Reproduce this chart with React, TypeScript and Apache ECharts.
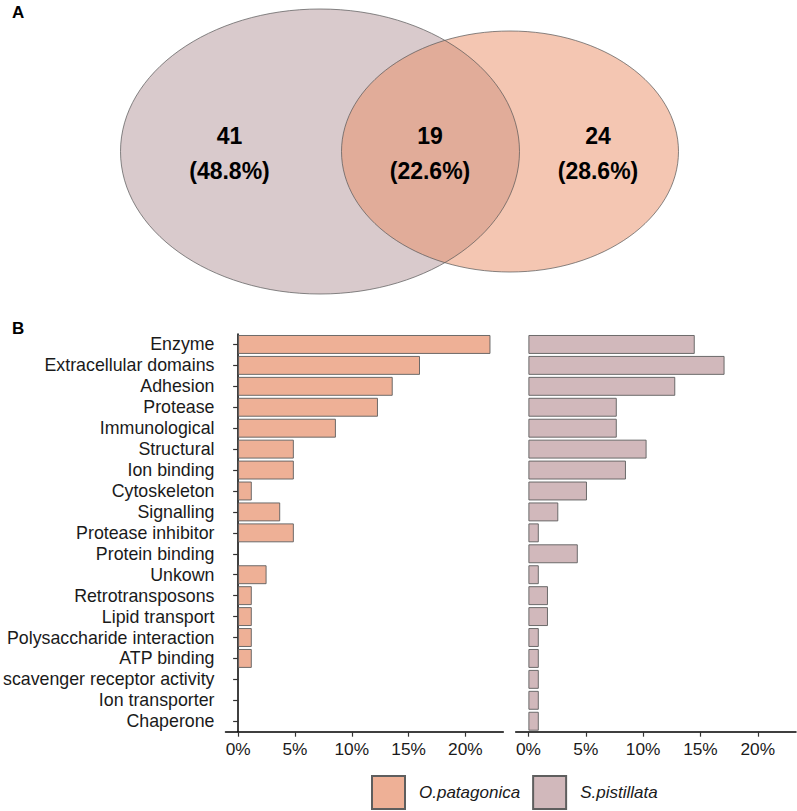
import React, { useEffect, useRef } from "react";
import * as echarts from "echarts";

// ---------- data ----------
const categories = [
  "Enzyme",
  "Extracellular domains",
  "Adhesion",
  "Protease",
  "Immunological",
  "Structural",
  "Ion binding",
  "Cytoskeleton",
  "Signalling",
  "Protease inhibitor",
  "Protein binding",
  "Unkown",
  "Retrotransposons",
  "Lipid transport",
  "Polysaccharide interaction",
  "ATP binding",
  "scavenger receptor activity",
  "Ion transporter",
  "Chaperone",
];

const seriesNames = ["O.patagonica", "S.pistillata"];

// percentages (%)
const opValues = [22.2, 16.0, 13.6, 12.3, 8.6, 4.9, 4.9, 1.2, 3.7, 4.9, 0, 2.5, 1.2, 1.2, 1.2, 1.2, 0, 0, 0];
const spValues = [14.5, 17.1, 12.8, 7.7, 7.7, 10.3, 8.5, 5.1, 2.6, 0.9, 4.3, 0.9, 1.7, 1.7, 0.9, 0.9, 0.9, 0.9, 0.9];

const xTicks = [0, 5, 10, 15, 20];

const vennCounts = [41, 19, 24];
const vennShares = ["48.8%", "22.6%", "28.6%"];

// ---------- styling / layout ----------
const FONT = '"Liberation Sans", Arial, Helvetica, sans-serif';
const OP_FILL = "#eeb096";
const SP_FILL = "#d1b8bb";
const BAR_BORDER = "#5e5e5e";
const TEXT = "#1a1a1a";

const X_MIN = -1.111;
const X_MAX = 23.333;

const PANEL_TOP = 334;
const PANEL_H = 397.7;

function toBarData(vals: number[]) {
  return vals.map((v) => (v === 0 ? null : v));
}

function buildOption() {
  const xAxisCommon = {
    type: "value" as const,
    min: X_MIN,
    max: X_MAX,
    splitLine: { show: false },
    axisLine: { show: true, lineStyle: { color: "#000", width: 1.5 } },
    axisTick: { show: true, customValues: xTicks, length: 5, lineStyle: { color: "#333", width: 1.2 } },
    axisLabel: {
      show: true,
      customValues: xTicks,
      formatter: "{value}%",
      fontSize: 17.3,
      fontFamily: FONT,
      color: TEXT,
      margin: 9,
    },
  };

  const vennCx = [229.5, 430, 598];

  const graphic: any[] = [
    {
      type: "ellipse",
      shape: { cx: 320, cy: 151.5, rx: 199.5, ry: 142.5 },
      style: { fill: "#b39599", opacity: 0.5 },
      silent: true,
    },
    {
      type: "ellipse",
      shape: { cx: 510, cy: 151.5, rx: 168.5, ry: 120.5 },
      style: { fill: "#e98d65", opacity: 0.5 },
      silent: true,
    },
    {
      type: "ellipse",
      shape: { cx: 320, cy: 151.5, rx: 199.5, ry: 142.5 },
      style: { fill: "none", stroke: "#555", lineWidth: 0.7 },
      silent: true,
    },
    {
      type: "ellipse",
      shape: { cx: 510, cy: 151.5, rx: 168.5, ry: 120.5 },
      style: { fill: "none", stroke: "#555", lineWidth: 0.7 },
      silent: true,
    },
    {
      type: "text",
      style: { text: "A", x: 12, y: 12, fontSize: 17, fontWeight: "bold", fontFamily: FONT, fill: "#000", verticalAlign: "middle" },
    },
    {
      type: "text",
      style: { text: "B", x: 12, y: 328, fontSize: 17, fontWeight: "bold", fontFamily: FONT, fill: "#000", verticalAlign: "middle" },
    },
  ];

  vennCounts.forEach((c, i) => {
    graphic.push({
      type: "text",
      style: {
        text: String(c),
        x: vennCx[i],
        y: 136,
        align: "center",
        verticalAlign: "middle",
        fontSize: 23,
        fontWeight: "bold",
        fontFamily: FONT,
        fill: "#000",
      },
    });
    graphic.push({
      type: "text",
      style: {
        text: "(" + vennShares[i] + ")",
        x: vennCx[i],
        y: 171,
        align: "center",
        verticalAlign: "middle",
        fontSize: 23,
        fontWeight: "bold",
        fontFamily: FONT,
        fill: "#000",
      },
    });
  });

  return {
    animation: false,
    backgroundColor: "#fff",
    textStyle: { fontFamily: FONT },
    grid: [
      { left: 224.3, top: PANEL_TOP, width: 279, height: PANEL_H, containLabel: false },
      { left: 515.7, top: PANEL_TOP, width: 280.3, height: PANEL_H, containLabel: false },
    ],
    xAxis: [
      { ...xAxisCommon, gridIndex: 0 },
      { ...xAxisCommon, gridIndex: 1 },
    ],
    yAxis: [
      {
        type: "category",
        gridIndex: 0,
        data: categories,
        inverse: true,
        axisLine: { show: true, lineStyle: { color: "#000", width: 1.5 } },
        axisTick: { show: true, alignWithLabel: true, interval: 0, length: 5, lineStyle: { color: "#333", width: 1.2 } },
        axisLabel: { show: true, interval: 0, fontSize: 17.8, fontFamily: FONT, color: TEXT, margin: 11 },
        splitLine: { show: false },
      },
      {
        type: "category",
        gridIndex: 1,
        data: categories,
        inverse: true,
        axisLine: { show: false },
        axisTick: { show: false },
        axisLabel: { show: false },
        splitLine: { show: false },
      },
    ],
    legend: {
      data: seriesNames,
      left: 371,
      top: 775,
      padding: 0,
      itemWidth: 33,
      itemHeight: 33,
      itemGap: 12,
      icon: "rect",
      textStyle: { fontSize: 17, fontStyle: "italic", fontFamily: FONT, color: TEXT, padding: [0, 0, 0, 9] },
    },
    series: [
      {
        name: seriesNames[0],
        type: "bar",
        xAxisIndex: 0,
        yAxisIndex: 0,
        data: toBarData(opValues),
        barWidth: "90%",
        itemStyle: { color: OP_FILL, borderColor: BAR_BORDER, borderWidth: 0.9 },
      },
      {
        name: seriesNames[1],
        type: "bar",
        xAxisIndex: 1,
        yAxisIndex: 1,
        data: toBarData(spValues),
        barWidth: "90%",
        itemStyle: { color: SP_FILL, borderColor: BAR_BORDER, borderWidth: 0.9 },
      },
    ],
    graphic,
  };
}

export default function App() {
  const ref = useRef<HTMLDivElement>(null);
  useEffect(() => {
    document.body.style.margin = "0";
    const chart = echarts.init(ref.current as HTMLDivElement, null, { renderer: "svg" });
    chart.setOption(buildOption() as any);
    return () => {
      chart.dispose();
    };
  }, []);
  return <div ref={ref} style={{ width: 797, height: 811 }} />;
}
